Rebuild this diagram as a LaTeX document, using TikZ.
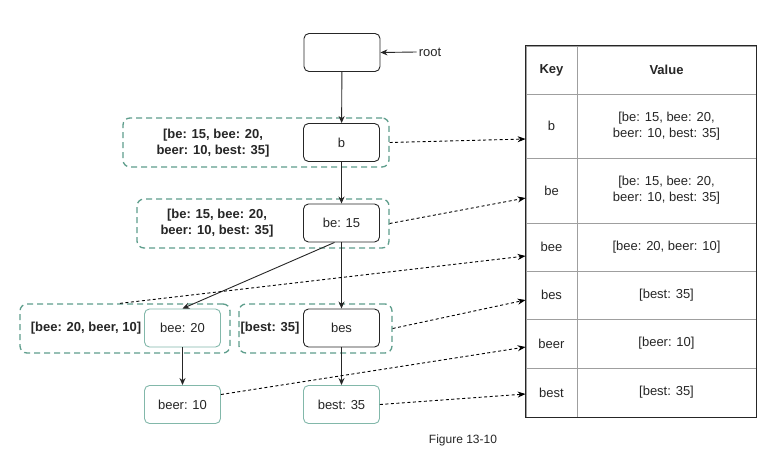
\documentclass[tikz,border=0pt]{standalone}
\usepackage{fontspec}
\setmainfont{Liberation Sans}
\usetikzlibrary{arrows.meta,calc}
\definecolor{tealdash}{HTML}{5E9E8C}
\definecolor{tealbox}{HTML}{82B8AA}
\definecolor{ink}{HTML}{262626}
\begin{document}
\begin{tikzpicture}[x=1pt,y=-1pt,
  font=\fontsize{13}{16}\selectfont,
  trie/.style={draw=ink, line width=0.9pt, rounded corners=5pt, minimum width=76pt, minimum height=38pt, inner sep=0pt, text=ink, fill=white},
  leaf/.style={trie, draw=tealbox},
  group/.style={draw=tealdash, line width=1.3pt, dash pattern=on 6pt off 4pt, rounded corners=7pt, minimum height=49pt, inner sep=0pt},
  lab/.style={font=\fontsize{13}{16}\selectfont\bfseries, align=center, text=ink},
  edge/.style={-{Stealth[length=7pt,width=6pt]}, line width=0.9pt, draw=ink},
  ref/.style={-{Stealth[length=8pt,width=6pt]}, line width=0.9pt, draw=black, dash pattern=on 3pt off 2.5pt},
  keycell/.style={draw=gray!75, line width=0.8pt, minimum width=51pt, inner sep=0pt, align=center, text=ink},
  valcell/.style={draw=gray!75, line width=0.8pt, minimum width=179pt, inner sep=0pt, align=center, text=ink}
]
\useasboundingbox[fill=white] (0,0) rectangle (773,460);

% dashed groups
\node[group, minimum width=266pt] (g1) at (256,142.5) {};
\node[group, minimum width=252pt] (g2) at (263,223.5) {};
\node[group, minimum width=210pt] (g3) at (125,328.5) {};
\node[group, minimum width=153pt] (g4) at (315.5,328.5) {};

% group labels
\node[lab] (l1) at (213,143) {[be: 15, bee: 20,\\beer: 10, best: 35]};
\node[lab] (l2) at (217,223) {[be: 15, bee: 20,\\beer: 10, best: 35]};
\node[lab] (l3) at (86,328) {[bee: 20, beer, 10]};
\node[lab] (l4) at (270,328) {[best: 35]};

% trie nodes
\node[trie] (root) at (342,52.5) {};
\node[trie] (b) at (341.5,142.5) {b};
\node[trie] (be) at (341.5,223) {be: 15};
\node[leaf] (bee) at (182.5,328) {bee: 20};
\node[trie] (bes) at (341.5,328) {bes};
\node[leaf] (beer) at (182.5,404.5) {beer: 10};
\node[leaf] (best) at (341.5,404.5) {best: 35};

\node[text=ink, inner sep=2pt] (rootlbl) at (430,52) {root};

% table
\node[keycell, minimum height=48pt, font=\fontsize{13}{16}\selectfont\bfseries] (kh) at (551.5,70) {Key};
\node[valcell, minimum height=48pt, font=\fontsize{13}{16}\selectfont\bfseries] (vh) at (666.5,70) {Value};
\node[keycell, minimum height=64pt] (kb) at (551.5,126) {b};
\node[valcell, minimum height=64pt] (vb) at (666.5,126) {[be: 15, bee: 20,\\beer: 10, best: 35]};
\node[keycell, minimum height=65pt] (kbe) at (551.5,190.5) {be};
\node[valcell, minimum height=65pt] (vbe) at (666.5,190.5) {[be: 15, bee: 20,\\beer: 10, best: 35]};
\node[keycell, minimum height=48pt] (kbee) at (551.5,247) {bee};
\node[valcell, minimum height=48pt] (vbee) at (666.5,247) {[bee: 20, beer: 10]};
\node[keycell, minimum height=48pt] (kbes) at (551.5,295) {bes};
\node[valcell, minimum height=48pt] (vbes) at (666.5,295) {[best: 35]};
\node[keycell, minimum height=49pt] (kbeer) at (551.5,343.5) {beer};
\node[valcell, minimum height=49pt] (vbeer) at (666.5,343.5) {[beer: 10]};
\node[keycell, minimum height=49pt] (kbest) at (551.5,392.5) {best};
\node[valcell, minimum height=49pt] (vbest) at (666.5,392.5) {[best: 35]};
\draw[ink, line width=1.1pt] (kh.north west) rectangle (vbest.south east);

% solid edges
\draw[edge] (rootlbl.west) -- (root.east);
\draw[edge] (root) -- (b);
\draw[edge] (b) -- (be);
\draw[edge] ([xshift=-7pt]be.south) -- (bee.north);
\draw[edge] (be) -- (bes);
\draw[edge] (bee) -- (beer);
\draw[edge] (bes) -- (best);

% dotted references
\draw[ref] (g1.east) -- ([yshift=-13pt]kb.west);
\draw[ref] (g2.east) -- ([yshift=-7.5pt]kbe.west);
\draw[ref] ([xshift=-5pt]g3.north) -- ([yshift=-9pt]kbee.west);
\draw[ref] (g4.east) -- ([yshift=-5pt]kbes.west);
\draw[ref] ([yshift=10pt]beer.east) -- ([yshift=-3.5pt]kbeer.west);
\draw[ref] (best.east) -- ([yshift=-1.5pt]kbest.west);

\node[text=ink, font=\fontsize{12}{14}\selectfont] (cap) at (463,440) {Figure 13-10};
\end{tikzpicture}
\end{document}
